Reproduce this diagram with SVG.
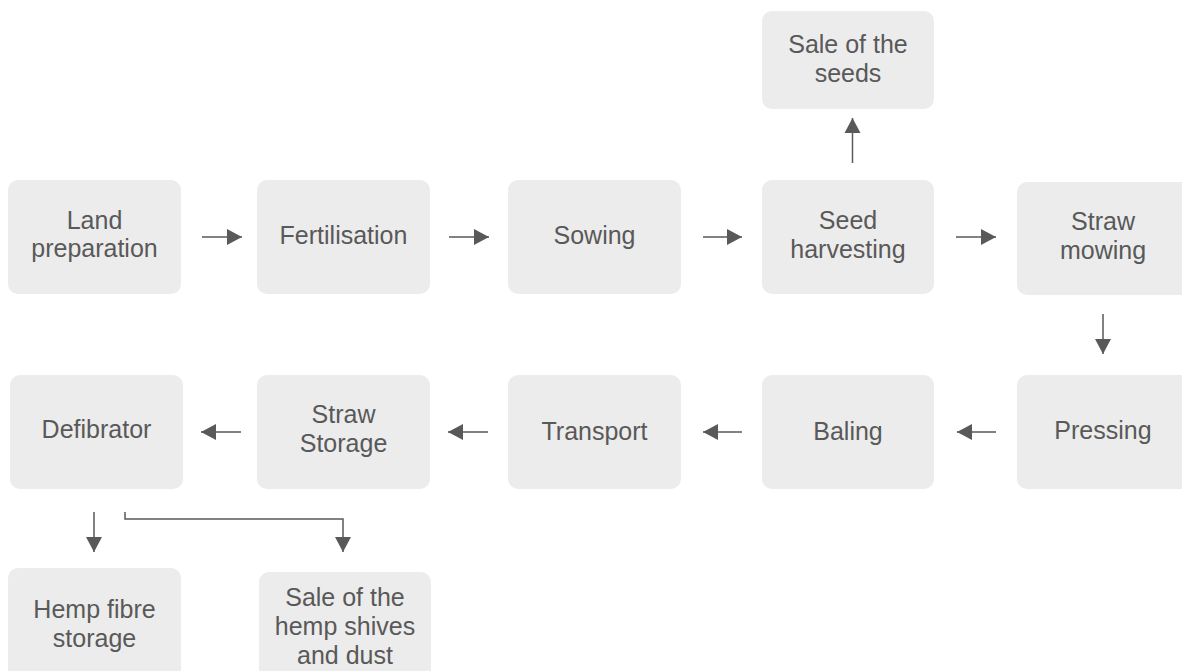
<svg xmlns="http://www.w3.org/2000/svg" width="1182" height="671" viewBox="0 0 1182 671">
<style>
.box{fill:#ececec;}
.t{font-family:"Liberation Sans",Arial,sans-serif;font-size:25px;fill:#595959;text-anchor:middle;}
.c{fill:none;stroke:#595959;stroke-width:1.5;marker-end:url(#ah);}
</style>
<defs>
<marker id="ah" markerUnits="userSpaceOnUse" markerWidth="16" markerHeight="18" refX="15" refY="8" orient="auto" viewBox="0 0 16 16">
<polygon points="0,0 15,8 0,16" fill="#595959"/>
</marker>
</defs>
<rect width="1182" height="671" fill="#ffffff"/>
<g id="land"><rect class="box" x="8" y="180" width="173" height="114" rx="10"/><text class="t" x="94.5" y="229">Land</text><text class="t" x="94.5" y="257">preparation</text></g>
<g id="fert"><rect class="box" x="257" y="180" width="173" height="114" rx="10"/><text class="t" x="343.5" y="244">Fertilisation</text></g>
<g id="sowing"><rect class="box" x="508" y="180" width="173" height="114" rx="10"/><text class="t" x="594.5" y="244">Sowing</text></g>
<g id="seedh"><rect class="box" x="762" y="180" width="172" height="114" rx="10"/><text class="t" x="848" y="229">Seed</text><text class="t" x="848" y="258">harvesting</text></g>
<g id="saleseeds"><rect class="box" x="762" y="11" width="172" height="98" rx="10"/><text class="t" x="848" y="53">Sale of the</text><text class="t" x="848" y="82">seeds</text></g>
<g id="mowing"><rect class="box" x="1017" y="182" width="180" height="113" rx="10"/><text class="t" x="1103" y="230">Straw</text><text class="t" x="1103" y="259">mowing</text></g>
<g id="pressing"><rect class="box" x="1017" y="375" width="180" height="114" rx="10"/><text class="t" x="1103" y="439">Pressing</text></g>
<g id="baling"><rect class="box" x="762" y="375" width="172" height="114" rx="10"/><text class="t" x="848" y="440">Baling</text></g>
<g id="transport"><rect class="box" x="508" y="375" width="173" height="114" rx="10"/><text class="t" x="594.5" y="440">Transport</text></g>
<g id="strawstorage"><rect class="box" x="257" y="375" width="173" height="114" rx="10"/><text class="t" x="343.5" y="423">Straw</text><text class="t" x="343.5" y="452">Storage</text></g>
<g id="defib"><rect class="box" x="10" y="375" width="173" height="114" rx="10"/><text class="t" x="96.5" y="438">Defibrator</text></g>
<g id="hemp"><rect class="box" x="8" y="568" width="173" height="114" rx="10"/><text class="t" x="94.5" y="618">Hemp fibre</text><text class="t" x="94.5" y="647">storage</text></g>
<g id="shives"><rect class="box" x="259" y="572" width="172" height="114" rx="10"/><text class="t" x="345" y="606">Sale of the</text><text class="t" x="345" y="635">hemp shives</text><text class="t" x="345" y="664">and dust</text></g>
<g id="connectors">
<path class="c" d="M202 237H242"/>
<path class="c" d="M449 237H489"/>
<path class="c" d="M703 237H742"/>
<path class="c" d="M956 237H996"/>
<path class="c" d="M852.5 163V118"/>
<path class="c" d="M1103 314V354"/>
<path class="c" d="M996 432H957"/>
<path class="c" d="M742 432H703"/>
<path class="c" d="M488 432H448"/>
<path class="c" d="M241 432H201"/>
<path class="c" d="M94 512V552"/>
<path class="c" d="M125 512V519H343V552"/>
</g>
</svg>
